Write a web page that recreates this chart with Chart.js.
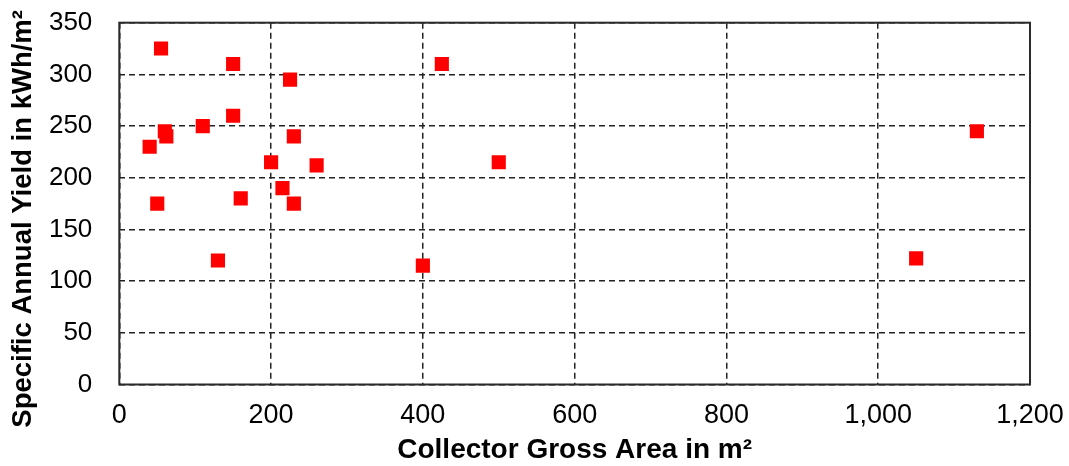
<!DOCTYPE html>
<html>
<head>
<meta charset="utf-8">
<script src="https://cdn.jsdelivr.net/npm/chart.js@4/dist/chart.umd.min.js"></script>
<style>
  html, body { margin: 0; padding: 0; background: #fff; }
  #wrap { width: 1069px; height: 466px; }
</style>
</head>
<body>
<div id="wrap"><canvas id="c" width="1069" height="466"></canvas></div>
<script>
// Collector gross area (m²) of each plant
const areas  = [40, 50, 55, 60, 62, 110, 130, 150, 150, 160, 200, 215, 225, 230, 230, 260, 400, 425, 500, 1050, 1130];
// Specific annual yield (kWh/m²) of each plant
const yields = [230, 175, 325, 245, 240, 250, 120, 310, 260, 180, 215, 190, 295, 240, 175, 212, 115, 310, 215, 122, 245];

const xTitle = 'Collector Gross Area in m²';
// trailing spaces push the rotated title a little below the plot's centre
const yTitle = 'Specific Annual Yield in kWh/m²    ';

const FONT = "'Liberation Sans', Arial, sans-serif";

// Solid frame around the plot area
const frame = {
  id: 'frame',
  afterDatasetsDraw(chart) {
    const { ctx, chartArea: a } = chart;
    ctx.save();
    ctx.strokeStyle = '#2a2a2a';
    ctx.lineWidth = 2;
    ctx.strokeRect(a.left, a.top, a.right - a.left, a.bottom - a.top);
    ctx.restore();
  }
};

const gridStyle = {
  color: '#222',
  lineWidth: 1.5,
  drawTicks: false
};

// Plot margins are set by layout padding, not by label overhang
function noOverhang(s) {
  s.paddingTop = 0; s.paddingBottom = 0; s.paddingLeft = 0; s.paddingRight = 0;
}

new Chart(document.getElementById('c'), {
  type: 'scatter',
  data: {
    datasets: [{
      data: areas.map((a, i) => ({ x: a, y: yields[i] })),
      pointStyle: 'rect',
      pointRadius: 10,
      pointHoverRadius: 10,
      backgroundColor: '#ff0000',
      borderWidth: 0
    }]
  },
  options: {
    responsive: false,
    animation: false,
    locale: 'en-US',
    layout: { padding: { top: 22.7, right: 39, bottom: 0, left: 0 } },
    plugins: { legend: { display: false }, tooltip: { enabled: false } },
    scales: {
      x: {
        type: 'linear',
        min: 0, max: 1200,
        ticks: { stepSize: 200, padding: 15, color: '#000', font: { family: FONT, size: 27 } },
        grid: gridStyle,
        border: { display: false, dash: [6, 4] },
        title: { display: true, text: xTitle, color: '#000', padding: { top: 0, bottom: -1 },
                 font: { family: FONT, size: 28, weight: 'bold' } },
        afterFit(s) { s.height = 81.5; noOverhang(s); }
      },
      y: {
        min: 0, max: 350,
        ticks: { stepSize: 50, padding: 27, color: '#000', font: { family: FONT, size: 26 } },
        grid: gridStyle,
        border: { display: false, dash: [6, 4] },
        title: { display: true, text: yTitle, color: '#000', padding: { top: 7, bottom: 0 },
                 font: { family: FONT, size: 27.5, weight: 'bold' } },
        afterFit(s) { s.width = 119.3; noOverhang(s); }
      }
    }
  },
  plugins: [frame]
});
</script>
</body>
</html>
